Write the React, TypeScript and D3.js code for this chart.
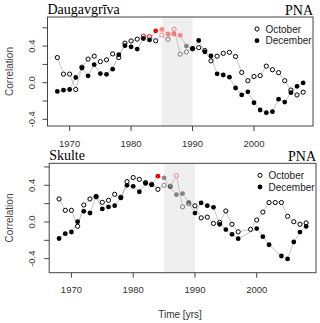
import React from 'react';
import { scaleLinear } from 'd3';

// years on the x axis
const years = [
  1968, 1969, 1970, 1971, 1972, 1973, 1974, 1975, 1976, 1977,
  1978, 1979, 1980, 1981, 1982, 1983, 1984, 1985, 1986, 1987,
  1988, 1989, 1990, 1991, 1992, 1993, 1994, 1995, 1996, 1997,
  1998, 1999, 2000, 2001, 2002, 2003, 2004, 2005, 2006, 2007, 2008,
];

// Daugavgriva correlations
const daugOctober = [
  0.275, 0.094, 0.094, -0.074, 0.17, 0.258, 0.29, 0.23, 0.25, 0.315,
  0.275, 0.432, 0.456, 0.476, 0.508, 0.503, 0.458, 0.521, 0.474, 0.583,
  0.312, 0.336, 0.37, 0.383, 0.352, 0.238, 0.29, 0.321, 0.332, 0.286,
  0.112, 0.022, 0.068, 0.077, 0.181, 0.142, 0.11, 0.022, -0.08, -0.134, -0.104,
];
const daugDecember = [
  -0.095, -0.082, -0.074, 0.057, 0.16, 0.075, 0.197, 0.1, 0.092, 0.148,
  0.306, 0.405, 0.392, 0.368, 0.483, 0.467, 0.566, 0.582, 0.532, 0.532,
  0.518, 0.4, 0.376, 0.461, 0.338, 0.292, 0.097, 0.084, 0.06, -0.058,
  -0.134, -0.1, -0.219, -0.298, -0.328, -0.317, -0.18, -0.212, -0.109, -0.04, -0.002,
];

// Skulte correlations (null = no value that year)
const skulOctober = [
  0.251, 0.127, 0.127, -0.047, 0.185, 0.251, 0.275, 0.214, 0.236, 0.302,
  0.27, 0.44, 0.485, 0.465, 0.43, 0.41, 0.356, 0.4, 0.39, 0.505,
  0.165, 0.2, 0.176, 0.045, 0.053, -0.016, -0.005, 0.12, -0.025, -0.107,
  null, -0.08, 0.022, 0.108, 0.212, 0.212, 0.212, 0.062, 0.003, -0.025, -0.01,
];
const skulDecember = [
  -0.18, -0.127, -0.109, 0.003, 0.116, 0.098, 0.28, 0.142, 0.164, 0.178,
  0.262, 0.4, 0.389, 0.33, 0.42, 0.405, 0.5, 0.48, 0.383, 0.298,
  0.31, 0.213, 0.097, 0.208, 0.178, 0.16, -0.025, -0.083, -0.135, -0.182,
  null, null, -0.072, -0.16, -0.248, null, -0.371, -0.403, -0.218, -0.11, -0.048,
];

const yTicks = [-0.4, -0.2, 0, 0.2, 0.4, 0.6];
const yLabelled = [-0.4, 0, 0.4];
const xTicks = [1970, 1980, 1990, 2000];
const shadeYears = [1985, 1990];
const seriesNames = ['October', 'December'];

const panels = [
  {
    key: 'daug', station: 'Daugavgrīva', index: 'PNA',
    october: daugOctober, december: daugDecember,
    left: 47.5, right: 313, top: 17, bottom: 126, yDomain: [-0.473, 0.718],
  },
  {
    key: 'skul', station: 'Skulte', index: 'PNA',
    october: skulOctober, december: skulDecember,
    left: 49.2, right: 316, top: 163.3, bottom: 272.7, yDomain: [-0.553, 0.64],
  },
];

const sans = '"Liberation Sans", Arial, sans-serif';
const serif = '"Liberation Serif", "Times New Roman", serif';
const R = 2.1;

function pointStyle(yr, v) {
  const colour = v >= 0.5 ? '#ff0000' : '#000000';
  const faded = yr >= 1985 && yr <= 1989;
  return { colour, opacity: faded ? 0.45 : 1 };
}

function Panel({ p }) {
  const x = scaleLinear().domain([1966.4, 2009.6]).range([p.left, p.right]);
  const y = scaleLinear().domain(p.yDomain).range([p.bottom, p.top]);

  const toPts = (vals) =>
    years
      .map((yr, i) => ({ yr, v: vals[i] }))
      .filter((d) => d.v !== null && d.v !== undefined)
      .map((d) => ({ ...d, px: x(d.yr), py: y(d.v) }));

  const oct = toPts(p.october);
  const dec = toPts(p.december);

  // type="b": segments with a small gap round each point
  const segs = (pts) => {
    const out = [];
    for (let i = 1; i < pts.length; i++) {
      const a = pts[i - 1];
      const b = pts[i];
      const dx = b.px - a.px;
      const dy = b.py - a.py;
      const len = Math.hypot(dx, dy);
      const g = 2.6;
      if (len <= 2 * g) continue;
      const ux = dx / len;
      const uy = dy / len;
      out.push([a.px + ux * g, a.py + uy * g, b.px - ux * g, b.py - uy * g]);
    }
    return out;
  };

  const lx = p.right - 56;

  return (
    <g>
      <rect
        x={x(shadeYears[0])}
        y={p.top}
        width={x(shadeYears[1]) - x(shadeYears[0])}
        height={p.bottom - p.top}
        fill="#efefef"
      />
      {[...segs(oct), ...segs(dec)].map((s, i) => (
        <line key={`s${i}`} x1={s[0]} y1={s[1]} x2={s[2]} y2={s[3]} stroke="#c4c4c4" strokeWidth={1} />
      ))}
      {oct.map((d) => {
        const st = pointStyle(d.yr, d.v);
        return (
          <circle key={`o${d.yr}`} cx={d.px} cy={d.py} r={R} fill="none"
            stroke={st.colour} strokeOpacity={st.opacity} strokeWidth={1} />
        );
      })}
      {dec.map((d) => {
        const st = pointStyle(d.yr, d.v);
        return (
          <circle key={`d${d.yr}`} cx={d.px} cy={d.py} r={R + 0.3}
            fill={st.colour} fillOpacity={st.opacity} />
        );
      })}

      <rect x={p.left} y={p.top} width={p.right - p.left} height={p.bottom - p.top}
        fill="none" stroke="#444" strokeWidth={1} />

      {yTicks.map((t) => (
        <line key={`yt${t}`} x1={p.left - 5} x2={p.left} y1={y(t)} y2={y(t)} stroke="#444" />
      ))}
      {yLabelled.map((t) => (
        <text key={`yl${t}`} transform={`translate(35,${y(t)}) rotate(-90)`}
          textAnchor="middle" fontFamily={sans} fontSize={9.5} fill="#333">
          {t.toFixed(1)}
        </text>
      ))}
      {xTicks.map((t) => (
        <g key={`xt${t}`}>
          <line x1={x(t)} x2={x(t)} y1={p.bottom} y2={p.bottom + 5} stroke="#444" />
          <text x={x(t)} y={p.bottom + 20.5} textAnchor="middle" fontFamily={sans} fontSize={9.5} fill="#333">
            {t}
          </text>
        </g>
      ))}

      <text transform={`translate(12.5,${(p.top + p.bottom) / 2}) rotate(-90)`}
        textAnchor="middle" fontFamily={sans} fontSize={10} fill="#444">
        Correlation
      </text>

      <text x={p.left} y={p.top - 3.5} fontFamily={serif} fontSize={14} fill="#000">{p.station}</text>
      <text x={p.right} y={p.top - 2.5} textAnchor="end" fontFamily={serif} fontSize={14} fill="#000">{p.index}</text>

      <circle cx={lx} cy={p.top + 12} r={R} fill="none" stroke="#000" strokeWidth={1} />
      <circle cx={lx} cy={p.top + 23.7} r={R + 0.3} fill="#000" />
      {seriesNames.map((n, i) => (
        <text key={n} x={lx + 8.5} y={p.top + 15.5 + i * 11.7} fontFamily={sans} fontSize={10} fill="#222">
          {n}
        </text>
      ))}
    </g>
  );
}

export default function App() {
  return (
    <svg width={320} height={323} style={{ position: 'absolute', left: 0, top: 0, background: '#fff' }}>
      {panels.map((p) => (
        <Panel key={p.key} p={p} />
      ))}
      <text x={180} y={318} textAnchor="middle" fontFamily={sans} fontSize={10} fill="#333">
        Time [yrs]
      </text>
    </svg>
  );
}
